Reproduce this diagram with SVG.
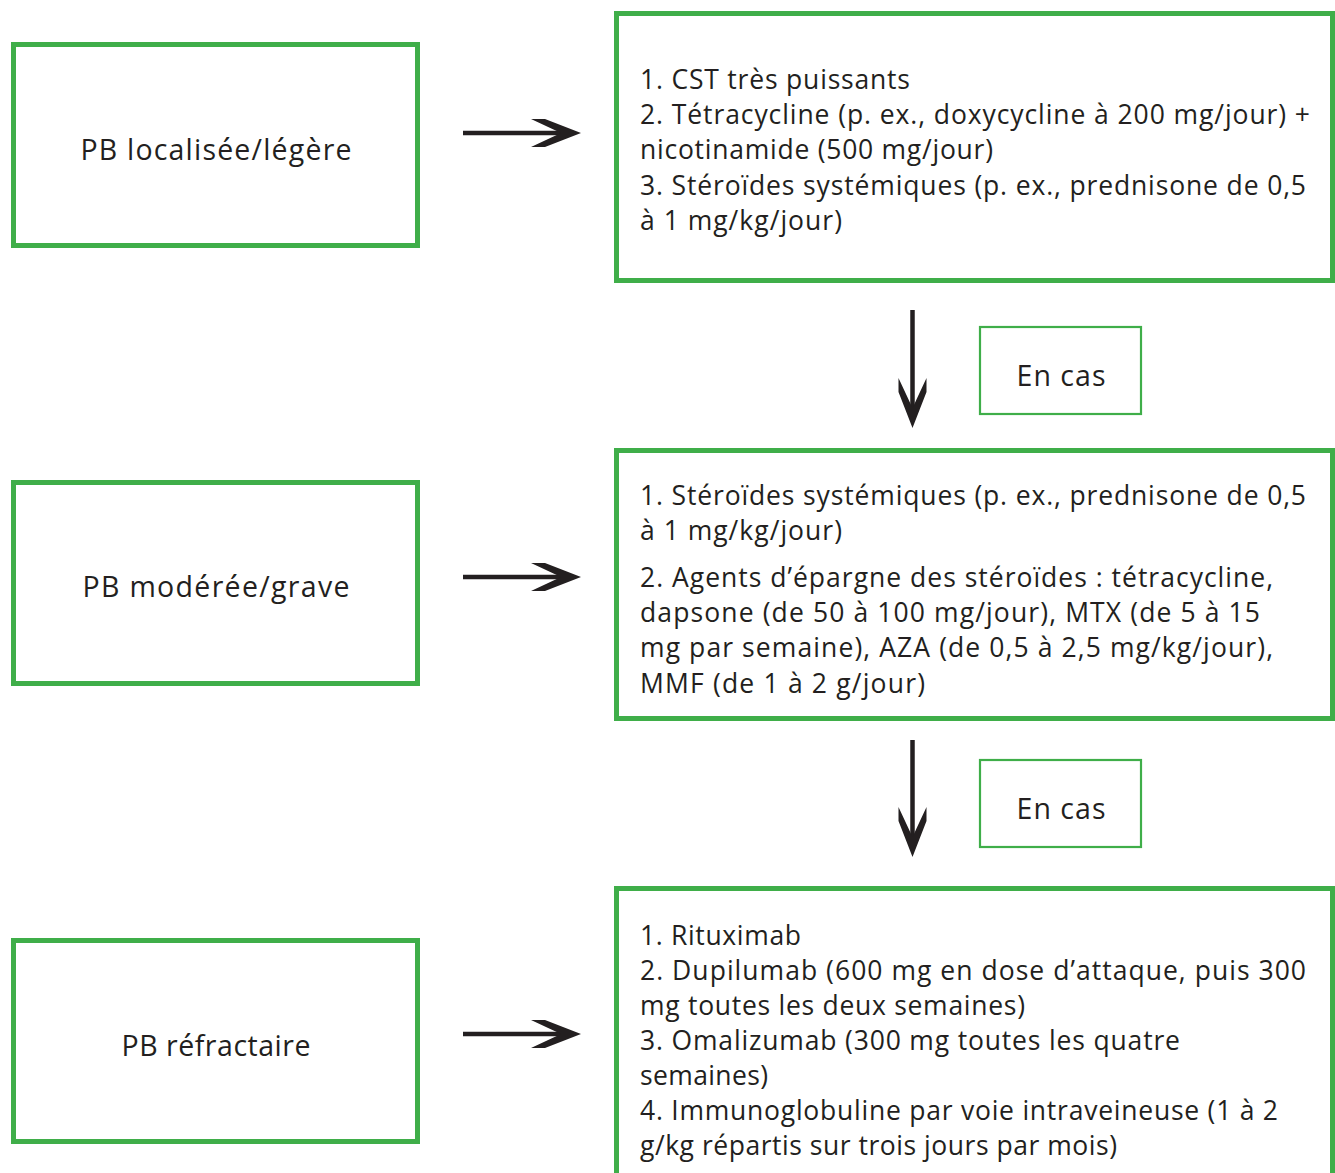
<svg xmlns="http://www.w3.org/2000/svg" xmlns:xlink="http://www.w3.org/1999/xlink" width="1335" height="1173" viewBox="0 0 1335 1173">
<style>
  .box { fill: #ffffff; stroke: #3fae49; stroke-width: 5; }
  .tag { fill: #ffffff; stroke: #3fae49; stroke-width: 2.2; }
  .t { font-family: "Open Sans", "Noto Sans", "DejaVu Sans", sans-serif; font-weight: 400; font-size: 26.5px; fill: #231f20; }
  .l { font-size: 28.5px; }
  .c { text-anchor: middle; }
  .shaft { stroke: #231f20; stroke-width: 4.5; fill: none; }
  .head { fill: #231f20; }
</style>
<defs>
  <path id="ah" d="M-50,-14 L-36,-14 L0,0 L-36,14 L-50,14 L-20,0 Z"/>
</defs>
<rect width="1335" height="1173" fill="#ffffff"/>

<g id="node-localisee">
  <rect class="box" x="13.5" y="44.5" width="404" height="201"/>
  <text class="t l c" x="216" y="160" textLength="271">PB localisée/légère</text>
</g>
<g id="node-moderee">
  <rect class="box" x="13.5" y="482.5" width="404" height="201"/>
  <text class="t l c" x="216" y="597" textLength="267">PB modérée/grave</text>
</g>
<g id="node-refractaire">
  <rect class="box" x="13.5" y="940.5" width="404" height="201"/>
  <text class="t l c" x="216" y="1056" textLength="189">PB réfractaire</text>
</g>

<g id="node-tx1">
  <rect class="box" x="616.5" y="13.5" width="716" height="267"/>
  <text class="t" x="640" y="89" textLength="270">1. CST très puissants</text>
  <text class="t" x="640" y="124" textLength="670">2. Tétracycline (p. ex., doxycycline à 200 mg/jour) +</text>
  <text class="t" x="640" y="159" textLength="353">nicotinamide (500 mg/jour)</text>
  <text class="t" x="640" y="195" textLength="666">3. Stéroïdes systémiques (p. ex., prednisone de 0,5</text>
  <text class="t" x="640" y="230" textLength="202">à 1 mg/kg/jour)</text>
</g>
<g id="node-tx2">
  <rect class="box" x="616.5" y="450.5" width="716" height="268"/>
  <text class="t" x="640" y="505" textLength="666">1. Stéroïdes systémiques (p. ex., prednisone de 0,5</text>
  <text class="t" x="640" y="540" textLength="202">à 1 mg/kg/jour)</text>
  <text class="t" x="640" y="587" textLength="633">2. Agents d’épargne des stéroïdes : tétracycline,</text>
  <text class="t" x="640" y="622" textLength="620">dapsone (de 50 à 100 mg/jour), MTX (de 5 à 15</text>
  <text class="t" x="640" y="657" textLength="633">mg par semaine), AZA (de 0,5 à 2,5 mg/kg/jour),</text>
  <text class="t" x="640" y="693" textLength="285">MMF (de 1 à 2 g/jour)</text>
</g>
<g id="node-tx3">
  <rect class="box" x="616.5" y="888.5" width="716" height="300"/>
  <text class="t" x="640" y="945" textLength="161">1. Rituximab</text>
  <text class="t" x="640" y="980" textLength="666">2. Dupilumab (600 mg en dose d’attaque, puis 300</text>
  <text class="t" x="640" y="1015" textLength="385">mg toutes les deux semaines)</text>
  <text class="t" x="640" y="1050" textLength="540">3. Omalizumab (300 mg toutes les quatre</text>
  <text class="t" x="640" y="1085" textLength="128">semaines)</text>
  <text class="t" x="640" y="1120" textLength="638">4. Immunoglobuline par voie intraveineuse (1 à 2</text>
  <text class="t" x="640" y="1155" textLength="477">g/kg répartis sur trois jours par mois)</text>
</g>

<g id="node-encas1">
  <rect class="tag" x="980" y="327" width="161" height="87"/>
  <text class="t l c" x="1061" y="386" textLength="89">En cas</text>
</g>
<g id="node-encas2">
  <rect class="tag" x="980" y="760" width="161" height="87"/>
  <text class="t l c" x="1061" y="819" textLength="89">En cas</text>
</g>

<g id="connectors">
  <line class="shaft" x1="463" y1="133" x2="562" y2="133"/>
  <use href="#ah" class="head" transform="translate(581,133)"/>
  <line class="shaft" x1="463" y1="577" x2="562" y2="577"/>
  <use href="#ah" class="head" transform="translate(581,577)"/>
  <line class="shaft" x1="463" y1="1034" x2="562" y2="1034"/>
  <use href="#ah" class="head" transform="translate(581,1034)"/>
  <line class="shaft" x1="912.5" y1="310" x2="912.5" y2="410"/>
  <use href="#ah" class="head" transform="translate(912.5,428) rotate(90)"/>
  <line class="shaft" x1="912.5" y1="740" x2="912.5" y2="840"/>
  <use href="#ah" class="head" transform="translate(912.5,857) rotate(90)"/>
</g>
</svg>
